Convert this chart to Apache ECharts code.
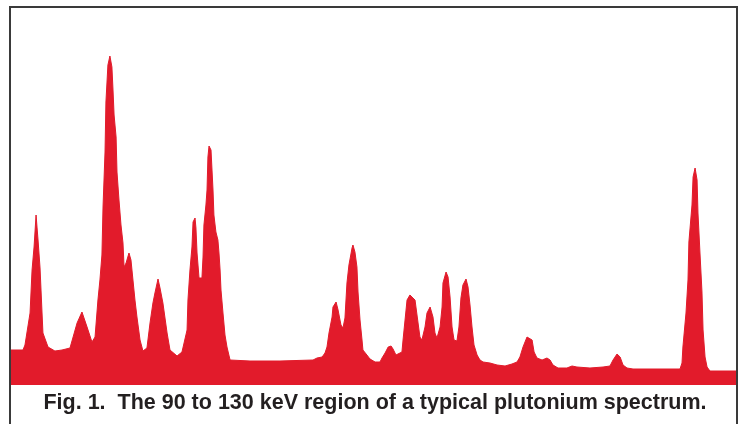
<!DOCTYPE html>
<html>
<head>
<meta charset="utf-8">
<script src="https://cdn.jsdelivr.net/npm/echarts@6/dist/echarts.min.js"></script>
<style>html,body{margin:0;padding:0;background:#fff;}#chart{width:745px;height:424px;}</style>
</head>
<body>
<div id="chart"></div>
<script>
// Energy (keV) of each sampled channel
var energyKeV = [
  90.00, 90.66, 90.77, 91.05, 91.16, 91.27, 91.38, 91.49, 91.60, 91.71, 91.76, 92.04, 92.42, 92.81, 93.25,
  93.64, 93.91, 94.19, 94.46, 94.63, 94.79, 94.90, 95.01, 95.07, 95.18, 95.23, 95.34, 95.45, 95.56, 95.62,
  95.68, 95.79, 95.84, 95.95, 96.06, 96.17, 96.23, 96.34, 96.50, 96.61, 96.72, 96.83, 96.94, 97.11, 97.27,
  97.49, 97.66, 97.82, 97.93, 98.10, 98.21, 98.37, 98.60, 98.76, 99.15, 99.42, 99.70, 99.75, 99.86, 99.97,
  100.03, 100.14, 100.19, 100.25, 100.36, 100.52, 100.58, 100.63, 100.74, 100.80, 100.85, 100.91, 101.02, 101.13, 101.18,
  101.29, 101.40, 101.46, 101.52, 101.57, 101.68, 101.79, 101.90, 102.07, 103.17, 104.82, 106.64, 106.86, 107.14, 107.30,
  107.41, 107.52, 107.69, 107.74, 107.91, 108.02, 108.18, 108.29, 108.40, 108.51, 108.62, 108.79, 108.84, 108.95, 109.06,
  109.12, 109.23, 109.34, 109.39, 109.61, 109.78, 110.06, 110.33, 110.44, 110.61, 110.78, 110.94, 111.05, 111.21, 111.32,
  111.54, 111.60, 111.71, 111.82, 111.98, 112.09, 112.26, 112.42, 112.53, 112.64, 112.81, 112.92, 113.09, 113.25, 113.36,
  113.47, 113.64, 113.75, 113.80, 113.97, 114.08, 114.19, 114.30, 114.41, 114.57, 114.68, 114.79, 114.90, 115.07, 115.18,
  115.29, 115.40, 115.51, 115.68, 115.84, 116.01, 116.39, 116.78, 117.22, 117.60, 117.88, 118.04, 118.21, 118.43, 118.54,
  118.71, 118.82, 118.98, 119.26, 119.53, 119.70, 119.86, 120.14, 120.63, 120.91, 121.18, 121.90, 122.62, 123.00, 123.17,
  123.39, 123.56, 123.72, 123.94, 124.27, 126.86, 126.97, 127.02, 127.19, 127.30, 127.35, 127.52, 127.58, 127.69, 127.80,
  127.85, 127.96, 128.07, 128.13, 128.24, 128.35, 128.51, 130.00
];
// Relative counts
var counts = [
  35, 35, 40, 72, 115, 138, 170, 145, 117, 72, 52, 38, 34, 35, 37,
  62, 73, 58, 43, 48, 85, 105, 130, 178, 233, 283, 320, 329, 318, 295,
  270, 248, 213, 185, 160, 142, 118, 122, 132, 125, 105, 85, 68, 45, 34,
  37, 62, 82, 92, 106, 97, 82, 52, 35, 29, 33, 55, 85, 115, 138,
  163, 167, 157, 132, 107, 107, 128, 160, 180, 195, 228, 239, 235, 195, 170,
  153, 145, 132, 115, 95, 72, 50, 38, 25, 24, 24, 25, 27, 28, 32,
  38, 52, 68, 78, 83, 75, 60, 57, 67, 102, 120, 137, 140, 133, 118,
  93, 65, 45, 35, 30, 26, 23, 23, 27, 32, 38, 39, 36, 30, 32,
  33, 45, 65, 85, 90, 92, 85, 63, 48, 45, 58, 72, 78, 68, 52,
  47, 58, 78, 102, 113, 108, 88, 58, 45, 44, 58, 87, 100, 106, 98,
  80, 58, 40, 30, 25, 23, 22, 20, 19, 21, 23, 28, 38, 48, 50,
  45, 33, 27, 25, 27, 25, 20, 17, 17, 19, 18, 17, 18, 19, 25,
  31, 28, 20, 17, 16, 16, 22, 38, 72, 105, 143, 180, 208, 217, 205,
  172, 132, 93, 55, 28, 18, 14, 14
];
var caption = 'Fig. 1.  The 90 to 130 keV region of a typical plutonium spectrum.';

var seriesData = energyKeV.map(function (e, i) { return [e, counts[i]]; });

var chart = echarts.init(document.getElementById('chart'), null, {renderer: 'canvas'});
chart.setOption({
  animation: false,
  backgroundColor: '#ffffff',
  grid: {left: 11, right: 8, top: 8, bottom: 39},
  xAxis: {type: 'value', min: 90, max: 130, show: false},
  yAxis: {type: 'value', min: 0, max: 377, show: false},
  series: [{
    type: 'line',
    data: seriesData,
    symbol: 'none',
    lineStyle: {color: '#e21b2b', width: 1},
    areaStyle: {color: '#e21b2b', opacity: 1}
  }],
  graphic: [
    {
      type: 'rect',
      shape: {x: 10, y: 7, width: 727, height: 430},
      style: {fill: null, stroke: '#3a3a3a', lineWidth: 2},
      z: 100
    },
    {
      type: 'text',
      x: 375,
      y: 403,
      style: {
        text: caption,
        fontFamily: 'Liberation Sans, Arial, sans-serif',
        fontWeight: 'bold',
        fontSize: 21.5,
        fill: '#231f20',
        align: 'center',
        verticalAlign: 'middle'
      },
      z: 100
    }
  ]
});
</script>
</body>
</html>
